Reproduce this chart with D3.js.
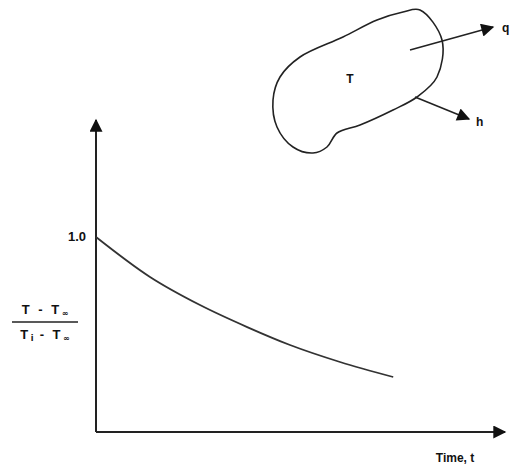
<!DOCTYPE html>
<html>
<head>
<meta charset="utf-8">
<script src="https://cdn.jsdelivr.net/npm/d3@7"></script>
<style>
  body { margin: 0; background: #fff; }
  svg text { font-family: "Liberation Sans", Arial, sans-serif; font-weight: bold; fill: #111; }
  svg text .sub { font-family: "DejaVu Sans", sans-serif; font-size: 8px; letter-spacing: 0; }
</style>
</head>
<body>
<svg id="chart" width="510" height="468"></svg>
<script>
// dimensionless temperature vs time (lumped cooling curve)
const times  = [0, 1.35, 2.6, 3.78, 4.85, 6.1, 7.43];
const thetas = [1.0, 0.795, 0.651, 0.538, 0.446, 0.359, 0.282];
const yTickValues = [1.0];

// body outline for the inset sketch (sketch units)
const blobX = [420, 442, 437, 417, 393, 360, 337, 327, 313, 293, 277, 273, 280, 300, 343, 377, 403];
const blobY = [10, 40, 77, 97, 110, 125, 133, 147, 153, 147, 127, 100, 77, 57, 37, 20, 12];

const svg = d3.select('#chart');
const width = 510, height = 468;
const margin = { top: 120, bottom: 36, left: 96, right: 5 };

const xScale = d3.scaleLinear().domain([0, 10]).range([margin.left, margin.left + 400]);
const yScale = d3.scaleLinear().domain([0, 1]).range([height - margin.bottom, 237]);

const g = svg.append('g');

// arrow heads
const defs = svg.append('defs');
defs.append('marker')
    .attr('id', 'arrBig')
    .attr('viewBox', '0 0 10 10')
    .attr('refX', 9).attr('refY', 5)
    .attr('markerWidth', 15).attr('markerHeight', 13)
    .attr('markerUnits', 'userSpaceOnUse')
    .attr('orient', 'auto')
    .append('path').attr('d', 'M0,0 L10,5 L0,10 Z').attr('fill', '#111');

// axes
const x0 = xScale(0), y0 = yScale(0);
g.append('line')
    .attr('x1', x0).attr('y1', y0).attr('x2', x0).attr('y2', margin.top)
    .attr('stroke', '#222').attr('stroke-width', 2)
    .attr('marker-end', 'url(#arrBig)');
g.append('line')
    .attr('x1', x0).attr('y1', y0).attr('x2', width - margin.right).attr('y2', y0)
    .attr('stroke', '#222').attr('stroke-width', 2)
    .attr('marker-end', 'url(#arrBig)');

// y tick label
g.selectAll('.ytick').data(yTickValues).enter().append('text')
    .attr('class', 'ytick')
    .attr('x', x0 - 10).attr('y', d => yScale(d) + 4)
    .attr('text-anchor', 'end')
    .style('font-size', '13px')
    .text(d => d.toFixed(1));

// y label as a fraction
const lab = g.append('g').attr('transform', 'translate(45,322)');
const numer = lab.append('text').attr('x', 0).attr('y', -8).attr('text-anchor', 'middle')
    .style('font-size', '13px').style('letter-spacing', '2.5px');
numer.append('tspan').text('T - T');
numer.append('tspan').attr('class', 'sub').attr('dy', 2).text('∞');
lab.append('line').attr('x1', -33).attr('x2', 33).attr('y1', 0).attr('y2', 0)
    .attr('stroke', '#222').attr('stroke-width', 1.6);
const denom = lab.append('text').attr('x', 0).attr('y', 17).attr('text-anchor', 'middle')
    .style('font-size', '13px').style('letter-spacing', '2.5px');
denom.append('tspan').text('T');
denom.append('tspan').attr('class', 'sub').attr('dy', 2).text('i');
denom.append('tspan').attr('dy', -2).text(' - T');
denom.append('tspan').attr('class', 'sub').attr('dy', 2).text('∞');

// x label
g.append('text')
    .attr('x', 455).attr('y', 462)
    .attr('text-anchor', 'middle')
    .style('font-size', '12px')
    .text('Time, t');

// decay curve
const curveData = times.map((t, i) => ({ t, v: thetas[i] }));
g.append('path')
    .datum(curveData)
    .attr('fill', 'none')
    .attr('stroke', '#333')
    .attr('stroke-width', 1.8)
    .attr('d', d3.line().x(d => xScale(d.t)).y(d => yScale(d.v)).curve(d3.curveMonotoneX));

// inset sketch of the body
const blob = blobX.map((x, i) => [x, blobY[i]]);
g.append('path')
    .attr('d', d3.line().curve(d3.curveCatmullRomClosed.alpha(0.5))(blob))
    .attr('fill', 'none')
    .attr('stroke', '#222')
    .attr('stroke-width', 1.6);

g.append('text').attr('x', 350).attr('y', 83).attr('text-anchor', 'middle')
    .style('font-size', '12px').text('T');

g.append('line').attr('x1', 410).attr('y1', 50).attr('x2', 493).attr('y2', 27)
    .attr('stroke', '#222').attr('stroke-width', 1.6).attr('marker-end', 'url(#arrBig)');
g.append('text').attr('x', 502).attr('y', 32).style('font-size', '12px').text('q');

g.append('line').attr('x1', 415).attr('y1', 97).attr('x2', 469).attr('y2', 119)
    .attr('stroke', '#222').attr('stroke-width', 1.6).attr('marker-end', 'url(#arrBig)');
g.append('text').attr('x', 476).attr('y', 126).style('font-size', '12px').text('h');
</script>
</body>
</html>
